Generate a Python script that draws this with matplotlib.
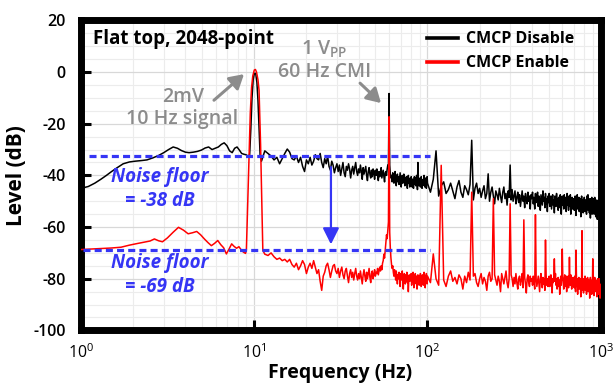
import numpy as np
import matplotlib
matplotlib.use('Agg')
import matplotlib.pyplot as plt
from matplotlib.ticker import LogLocator, MultipleLocator, NullFormatter

FONT = 'Open Sans'
plt.rcParams['font.family'] = [FONT, 'DejaVu Sans']
plt.rcParams['mathtext.fontset'] = 'custom'
plt.rcParams['mathtext.rm'] = FONT
plt.rcParams['mathtext.it'] = FONT + ':italic'
plt.rcParams['mathtext.bf'] = FONT + ':bold'
plt.rcParams['axes.unicode_minus'] = False

# ---------------- data ----------------
# CMCP Disable (black)
dis_low_freq = [1.0, 1.1, 1.2, 1.3, 1.4, 1.5, 1.6, 1.75, 1.9, 2.05, 2.2, 2.4, 2.6, 2.8, 3.0,
                3.2, 3.4, 3.6, 3.8, 4.0, 4.2, 4.45, 4.7, 4.95, 5.2, 5.45, 5.7, 5.95, 6.2, 6.45,
                6.7, 6.95, 7.2, 7.45, 7.7, 7.95, 8.2, 8.45, 8.7, 8.95, 9.2,
                9.4, 9.55, 9.7, 9.85, 10.0, 10.1, 10.2, 10.35, 10.5, 10.65, 10.8, 10.95]
dis_low_level = [-45, -44.3, -43, -41.5, -40, -38.5, -37.2, -35.5, -34.8, -34.5, -34.3, -34, -33.2, -32.3, -31.2,
                 -30, -29, -29.5, -30.4, -31, -31.2, -31, -30.7, -30.2, -29.4, -29, -30, -29.5, -29, -28,
                 -27.4, -28.5, -30.5, -31.2, -29.5, -29, -30.2, -31.5, -31.8, -32, -32.5,
                 -32, -22, -10, -3, -0.6, -0.4, -0.8, -4, -11, -22, -32, -34]
dis_mid_start, dis_mid_step = 11.0, 0.5
dis_mid_level = [
    -34.5, -30.5, -31.5, -32.5, -34, -33, -35.5, -33.5, -31.5, -29.8, -31, -33.5, -34, -32.5, -35, -33, -36.5, -38.5,
    -34, -35.5, -33, -36, -34.5, -32, -33.5, -34, -31.5, -35, -37, -33.5, -35.5, -32.5, -36.5, -38, -34.5, -36, -39, -37,
    -35.5, -38.5, -36, -40, -37.5, -35, -39, -40.5, -36.5, -38, -35.5, -37.5, -41, -38, -36.5, -39.5, -37, -35, -38.5, -40,
    -37.5, -39, -36, -38.5, -41.5, -37, -39.5, -38, -36.5, -40, -42, -38.5, -37, -39.5, -41, -38, -40.5, -37.5, -39, -41.5,
    -38, -40, -37.5, -39.5, -42, -38.5, -40.5, -39, -37, -41, -39.5, -38, -40.5, -42.5, -39, -38.5, -40, -37.5, -36, -36,
    -36, -36, -39.5, -41, -40, -42.5, -39, -41.5, -43, -40, -38.5, -42, -44, -41, -39.5, -42.5, -40.5, -43.5, -41, -39,
    -42, -44.5, -41, -40, -43, -41.5, -39.5, -42, -44, -41, -43.5, -40.5, -42.5, -45, -41.5, -40, -43, -42, -44.5, -41,
    -43, -40.5, -42, -44.5, -41.5, -43, -45, -42, -40.5, -43.5, -41, -44, -42.5, -40, -43, -45.5, -38, -42, -44, -41.5,
    -43, -41, -44.5, -42, -40.5, -43.5, -45, -42, -44, -41.5, -43, -40, -42.5, -44.5, -41, -43.5, -42, -45, -42.5, -40.5]
dis_high_start, dis_high_step = 100.0, 4.0
dis_high_level = [
    -43, -46.5, -41.5, -45, -48, -44, -42.5, -47, -45.5, -43, -46, -49, -44.5, -42, -46.5, -48.5, -44, -45.5, -47.5, -43.5, -46, -49.5, -45, -43, -47,
    -45, -48.5, -46, -44, -49, -47, -45.5, -50, -46.5, -44.5, -48, -51, -46, -47.5, -49.5, -45, -48, -50.5, -46.5, -44.5, -49, -47, -51.5, -46, -48.5,
    -47, -49.5, -45.5, -50, -48, -46, -51, -48.5, -46.5, -50.5, -47.5, -52, -49, -46, -50, -48, -52.5, -47, -49.5, -51, -46.5, -50, -48, -53, -47.5,
    -49, -46.5, -51, -48.5, -53, -47, -50.5, -49, -46.5, -52, -48, -50, -53.5, -47.5, -49.5, -51.5, -46, -50, -48.5, -52.5, -47, -51, -49, -54, -48,
    -50.5, -47, -52, -49, -48, -53, -50, -47.5, -51.5, -49.5, -54.5, -48, -50.5, -52, -47, -51, -49, -53.5, -48.5, -50, -52.5, -47.5, -51, -55, -49,
    -48, -51.5, -49.5, -53, -47.5, -50.5, -52, -48.5, -54, -50, -47, -51.5, -49, -53.5, -48, -52, -50.5, -47.5, -55, -49.5, -51, -48.5, -53, -50, -52.5,
    -49, -53.5, -50, -48, -52, -55.5, -49.5, -51, -47.5, -53, -50.5, -52.5, -48.5, -54, -50, -51.5, -49, -56, -50.5, -48, -53, -51, -49.5, -54.5, -50,
    -52, -48.5, -51, -54, -49.5, -53, -50, -55, -48, -52.5, -50.5, -47.5, -53.5, -51, -49, -54.5, -52, -50, -56.5, -49, -51.5, -53, -48.5, -55, -51,
    -50, -53.5, -49, -52, -55, -50.5, -48.5, -53, -51.5, -56, -49.5, -52.5, -54, -50, -57, -51, -53, -49.5, -55.5, -52, -50.5, -54.5, -51.5, -56.5, -53]
dis_spike_freq = [60, 88, 112, 180, 224, 300]
dis_spike_level = [-8.3, -35, -30.5, -26.4, -39.4, -36]

# CMCP Enable (red)
en_low_freq = [1.0, 1.15, 1.3, 1.5, 1.7, 1.9, 2.1, 2.3, 2.5, 2.65, 2.8, 2.95, 3.15, 3.4, 3.65, 3.9, 4.15, 4.4,
               4.65, 4.9, 5.15, 5.4, 5.65, 5.9, 6.15, 6.4, 6.65, 6.9, 7.15, 7.4, 7.65, 7.9, 8.15, 8.4, 8.65, 8.9,
               9.0, 9.15, 9.32, 9.48, 9.64, 9.8, 10.0, 10.15, 10.3, 10.5, 10.65, 10.87, 11.05, 11.2]
en_low_level = [-68.7, -68.5, -68.3, -68.1, -67.8, -67, -66.4, -65.9, -65.4, -64.6, -65.3, -65.7, -64.2, -62, -60.1, -61.2, -62.6, -62.2,
                -61.7, -63, -64.6, -66, -67.2, -66.3, -65.2, -66.8, -68, -70.4, -68.5, -66.5, -67.5, -68.2, -67.6, -68.8, -69.7, -70.2,
                -69, -52, -34, -16, -6, -1.5, 0.8, 1.0, 0, -3, -7, -28, -50, -69]
en_mid_start, en_mid_step = 11.5, 0.5
en_mid_level = [
    -70.5, -71, -70, -71.5, -72.5, -72, -73, -72.5, -73.5, -72.5, -74.5, -75.5, -74, -76.5, -75, -73, -74.5,
    -78, -75.5, -74, -76, -73, -75.5, -78, -76.5, -81, -84.5, -79, -77.5, -75, -74, -76.5, -79.5, -77, -75, -74.5, -77,
    -78, -76, -79.5, -77, -75.5, -78.5, -80, -77, -76, -79, -81.5, -78, -76.5, -79.5, -77.5, -80.5, -78, -76, -79, -80.5,
    -78, -80, -77, -79.5, -82, -78.5, -76.5, -79, -81, -77.5, -80, -78, -76, -79.5, -81.5, -78, -77, -80, -78.5, -76.5,
    -79, -77.5, -78, -76, -78.5, -77, -75.5, -77, -75, -76.5, -74, -73, -70.5, -72, -69, -66.5, -63, -64.5, -61, -58,
    -62, -62, -68, -72, -74.5, -76, -75, -77.5, -79, -76.5, -78, -80.5, -77, -79, -82, -78.5, -80, -77.5, -79.5, -83,
    -78, -80.5, -79, -77, -81, -84, -79.5, -78, -80.5, -82, -78.5, -80, -77.5, -81.5, -79, -85, -80, -78.5, -81, -79.5,
    -80, -78, -82.5, -79.5, -81, -77.5, -80, -83.5, -79, -81.5, -78, -80.5, -82, -79, -84, -80, -78.5, -81, -79.5, -82.5,
    -79, -81.5, -78, -80, -83, -79.5, -81, -78.5, -80.5, -82.5, -79, -77.5, -81, -80, -83.5, -79, -81.5, -78, -80, -82]
en_high_start, en_high_step = 100.0, 4.0
en_high_level = [
    -79, -81.5, -77.5, -80, -82.5, -78, -80.5, -83, -79, -77, -81, -79.5, -82, -78.5, -80, -84, -79, -81.5, -77.5, -80.5, -82, -79, -78, -81.5, -83,
    -80, -78, -82, -79.5, -81, -84.5, -79, -77.5, -81, -80, -83, -78.5, -80.5, -82.5, -79, -81, -85, -78, -80, -82, -79.5, -77, -81.5, -83.5, -80,
    -81, -78.5, -80, -83, -79.5, -82, -78, -81.5, -84, -80, -79, -82.5, -80.5, -78, -83.5, -81, -79.5, -82, -85.5, -80, -78.5, -81.5, -83, -79, -81,
    -80, -82.5, -79, -81, -84, -78.5, -80.5, -83, -81, -79, -82, -85, -80, -78, -81.5, -83.5, -79.5, -82, -80, -84.5, -81, -78.5, -82.5, -80, -83,
    -81.5, -79, -83, -80.5, -78.5, -82, -85.5, -80, -81.5, -79, -83.5, -81, -78, -82.5, -80, -84, -81.5, -79.5, -83, -80.5, -86, -81, -79, -82.5, -80,
    -82, -79.5, -81, -84, -80, -78.5, -83, -81.5, -79, -85, -80.5, -82, -79, -83.5, -81, -86.5, -80, -82.5, -78.5, -81, -84, -80, -82, -79.5, -83,
    -81, -83.5, -79, -82, -85, -80.5, -78.5, -83, -81, -86, -80, -82.5, -79.5, -84, -81.5, -80, -83, -87, -81, -79, -82.5, -84.5, -80.5, -82, -85.5,
    -80, -83, -81.5, -79, -84.5, -82, -80, -86, -81, -83.5, -79.5, -82, -85, -80.5, -83, -81, -87.5, -82, -79.5, -84, -81, -83, -86, -80.5, -82.5,
    -81.5, -84, -80, -83, -86.5, -81, -79.5, -84.5, -82, -80.5, -85, -83, -81, -87, -82.5, -80, -84, -86, -81.5, -83.5, -80, -85.5, -82, -87.5, -84]
en_spike_freq = [60, 108, 120, 180, 240, 300, 360, 420, 480, 540, 600, 660, 720, 780, 900]
en_spike_level = [-17.3, -70.4, -36.1, -46.5, -49, -51, -57.2, -55.2, -65, -72.3, -68.5, -71.7, -68.9, -61.4, -72.3]

# noise-floor markers (dB) and their frequency span
floor_levels = [-32.6, -68.7]
floor_f_start = [1.11, 1.02]
floor_f_end = [103, 103]
floor_labels = [["Noise floor", "= -38 dB"], ["Noise floor", "= -69 dB"]]
arrow_freq = 27.7
arrow_levels = [-36.8, -66.7]

series_labels = ["CMCP Disable", "CMCP Enable"]


def build(low_f, low_l, mid_start, mid_step, mid_l, hi_start, hi_step, hi_l, sp_f, sp_l):
    mid_f = mid_start + mid_step * np.arange(len(mid_l))
    hi_f = hi_start + hi_step * np.arange(len(hi_l))
    f = np.concatenate([np.asarray(low_f, float), mid_f, hi_f])
    l = np.concatenate([np.asarray(low_l, float), np.asarray(mid_l, float), np.asarray(hi_l, float)])
    for sf, sl in zip(sp_f, sp_l):
        i = int(np.argmin(np.abs(f - sf)))
        l[i] = sl
    return f, l


f_dis, l_dis = build(dis_low_freq, dis_low_level, dis_mid_start, dis_mid_step, dis_mid_level,
                     dis_high_start, dis_high_step, dis_high_level, dis_spike_freq, dis_spike_level)
f_en, l_en = build(en_low_freq, en_low_level, en_mid_start, en_mid_step, en_mid_level,
                   en_high_start, en_high_step, en_high_level, en_spike_freq, en_spike_level)

# ---------------- figure ----------------
W, H = 613, 388
fig = plt.figure(figsize=(W / 100, H / 100), dpi=100)
ax = fig.add_axes([81.1 / W, 1 - 330.4 / H, 519.6 / W, 310.0 / H])

ax.set_xscale('log')
ax.set_xlim(1, 1000)
ax.set_ylim(-100, 20)

ax.xaxis.set_major_locator(LogLocator(base=10, numticks=10))
ax.xaxis.set_minor_locator(LogLocator(base=10, subs=np.arange(2, 10), numticks=20))
ax.xaxis.set_minor_formatter(NullFormatter())
ax.yaxis.set_major_locator(MultipleLocator(20))
ax.yaxis.set_minor_locator(MultipleLocator(5))
ax.grid(which='minor', color='#ececec', lw=0.8, zorder=0)
ax.grid(which='major', color='#d8d8d8', lw=0.9, zorder=0)
ax.set_axisbelow(True)

ax.tick_params(which='major', direction='in', length=7, width=2.2, labelsize=11.5,
               top=False, right=False, color='black')
ax.tick_params(axis='y', pad=11)
ax.tick_params(axis='x', pad=9)
ax.tick_params(which='minor', length=0)
for lab in ax.get_yticklabels():
    lab.set_fontweight('semibold')
for sp in ax.spines.values():
    sp.set_linewidth(5)
    sp.set_color('black')

ax.plot(f_dis, l_dis, color='black', lw=1.1, label=series_labels[0], zorder=3)
ax.plot(f_en, l_en, color='#ff0000', lw=1.1, label=series_labels[1], zorder=4)

blue = '#3535f5'
for lev, fs, fe in zip(floor_levels, floor_f_start, floor_f_end):
    ax.plot([fs, fe], [lev, lev], color=blue, lw=2.3, linestyle=(0, (2.2, 1.3)), zorder=5)

ax.annotate('', xy=(arrow_freq, arrow_levels[1]), xytext=(arrow_freq, arrow_levels[0]),
            arrowprops=dict(arrowstyle='-|>,head_length=0.7,head_width=0.35', color=blue, lw=1.6,
                            mutation_scale=14, shrinkA=0, shrinkB=0), zorder=6)

# noise floor labels (two lines each)
label_pos = [(-40.6, -50.0), (-74.0, -83.2)]
for (l1, l2), (y1, y2) in zip(floor_labels, label_pos):
    ax.text(2.85, y1, l1, color=blue, fontsize=13.5, fontweight='bold', style='italic',
            ha='center', va='center', zorder=7)
    ax.text(2.85, y2, l2, color=blue, fontsize=13.5, fontweight='bold', style='italic',
            ha='center', va='center', zorder=7)

gray = '#8c8c8c'
gfs = 14
ax.text(3.88, -9.6, '2mV', color=gray, fontsize=gfs, ha='center', va='center', fontweight='semibold')
ax.text(3.85, -18.0, '10 Hz signal', color=gray, fontsize=gfs, ha='center', va='center', fontweight='semibold')
ax.annotate('', xy=(8.72, -0.8), xytext=(5.85, -10.9),
            arrowprops=dict(arrowstyle='-|>,head_length=0.6,head_width=0.35', color=gray, lw=2.2,
                            mutation_scale=14, shrinkA=0, shrinkB=0))
ax.text(25.5, 9.3, r'1 V$_{\mathregular{PP}}$', color=gray, fontsize=gfs, ha='center', va='center',
        fontweight='semibold')
ax.text(25.3, 0.0, '60 Hz CMI', color=gray, fontsize=gfs, ha='center', va='center', fontweight='semibold')
ax.annotate('', xy=(53.9, -12.0), xytext=(40.8, -4.3),
            arrowprops=dict(arrowstyle='-|>,head_length=0.6,head_width=0.35', color=gray, lw=2.2,
                            mutation_scale=14, shrinkA=0, shrinkB=0))

ax.text(0.0235, 0.924, 'Flat top, 2048-point', transform=ax.transAxes, fontsize=13.5,
        fontweight='bold', ha='left', va='baseline')

leg = ax.legend(loc='upper left', bbox_to_anchor=(0.66, 0.975), frameon=False,
                fontsize=11.5, handlelength=1.95, handletextpad=0.5, labelspacing=0.5,
                borderpad=0.2, borderaxespad=0)
for t in leg.get_texts():
    t.set_fontweight('bold')
for h in leg.legend_handles:
    h.set_linewidth(2.6)

fig.text(17 / W, 1 - 176 / H, 'Level (dB)', rotation=90, ha='center', va='center',
         fontsize=15, fontweight='bold')
fig.text(340 / W, 1 - 373 / H, 'Frequency (Hz)', ha='center', va='center',
         fontsize=14, fontweight='bold')

fig.savefig('out.png', dpi=100)
